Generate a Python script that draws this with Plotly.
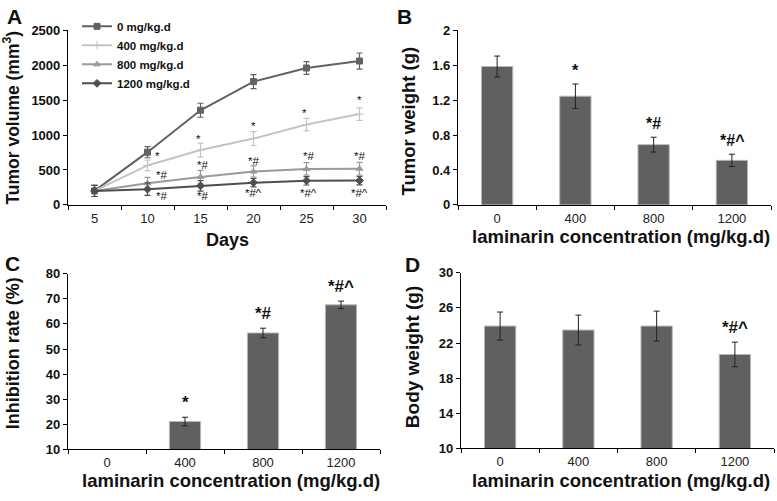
import plotly.graph_objects as go

W, H = 777, 501

# ---------- Panel A data ----------
days = ["5", "10", "15", "20", "25", "30"]
vol_0 = [200, 755, 1355, 1765, 1960, 2060]
vol_0_err = [80, 80, 100, 100, 90, 115]
vol_400 = [200, 565, 785, 950, 1150, 1300]
vol_400_err = [80, 75, 100, 100, 90, 90]
vol_800 = [200, 310, 400, 478, 515, 518]
vol_800_err = [80, 85, 95, 80, 90, 90]
vol_1200 = [200, 225, 272, 318, 345, 348]
vol_1200_err = [80, 90, 75, 60, 60, 60]
series_names = ["0 mg/kg.d", "400 mg/kg.d", "800 mg/kg.d", "1200 mg/kg.d"]

# annotations panel A: (day, value, text, xshift)
ann_A = [
    ("10", 700, "*", 10), ("10", 430, "*#", 14), ("10", 125, "*#", 14),
    ("15", 945, "*", -2), ("15", 565, "*#", 2), ("15", 125, "*#", 2),
    ("20", 1135, "*", 0), ("20", 635, "*#", 0), ("20", 175, "*#^", 0),
    ("25", 1320, "*", -2), ("25", 695, "*#", 2), ("25", 175, "*#^", 2),
    ("30", 1505, "*", 0), ("30", 695, "*#", 0), ("30", 175, "*#^", 0),
]

# ---------- Bar panels ----------
conc = ["0", "400", "800", "1200"]
tumor_weight = [1.585, 1.245, 0.69, 0.51]
tumor_weight_err = [0.12, 0.14, 0.085, 0.07]
tumor_weight_sig = ["", "*", "*#", "*#^"]

inhibition = [0, 21.1, 56.4, 67.6]
inhibition_err = [0, 1.7, 1.9, 1.5]
inhibition_sig = ["", "*", "*#", "*#^"]

body_weight = [23.93, 23.48, 23.93, 20.7]
body_weight_err = [1.6, 1.7, 1.7, 1.4]
body_weight_sig = ["", "", "", "*#^"]

FONT = "Liberation Sans, Arial, sans-serif"

fig = go.Figure()

line_colors = ["#626262", "#c4c4c4", "#9a9a9a", "#4e4e4e"]
symbols = ["square", "cross-thin", "triangle-up", "diamond"]
for name, ys, es, col, sym in zip(series_names,
                                  [vol_0, vol_400, vol_800, vol_1200],
                                  [vol_0_err, vol_400_err, vol_800_err, vol_1200_err],
                                  line_colors, symbols):
    fig.add_trace(go.Scatter(
        x=days, y=ys, name=name, mode="lines+markers",
        line=dict(color=col, width=2),
        marker=dict(symbol=sym, size=6, color=col, line=dict(color=col, width=1)),
        error_y=dict(type="data", array=es, color=col, thickness=1.2, width=3),
        xaxis="x", yaxis="y", showlegend=True,
    ))

def add_bars(vals, errs, xa, ya):
    fig.add_trace(go.Bar(
        x=conc, y=vals, width=0.4,
        marker=dict(color="#606060", line=dict(color="#b8b8b8", width=1)),
        error_y=dict(type="data", array=errs, color="#222222", thickness=1, width=3),
        xaxis=xa, yaxis=ya, showlegend=False,
    ))

add_bars(tumor_weight, tumor_weight_err, "x2", "y2")
add_bars(inhibition, inhibition_err, "x3", "y3")
add_bars(body_weight, body_weight_err, "x4", "y4")

def px_x(a, b):
    return [a / W, b / W]

def px_y(top, bottom):
    return [1 - bottom / H, 1 - top / H]

xcommon = dict(type="category", showline=True, linecolor="#000", linewidth=1.2,
               ticks="outside", ticklen=4, tickcolor="#000", tickson="boundaries",
               showgrid=False, zeroline=False, ticklabelstandoff=1,
               tickfont=dict(family=FONT, size=13, color="#222"))
ycommon = dict(showline=True, linecolor="#000", linewidth=1.2, ticks="outside",
               ticklen=4, tickcolor="#000", showgrid=False, zeroline=False,
               tickfont=dict(family=FONT, size=13, color="#111", weight="bold"))

fig.update_layout(
    width=W, height=H, margin=dict(l=0, r=0, t=0, b=0),
    paper_bgcolor="white", plot_bgcolor="white",
    font=dict(family=FONT, color="#111"),
    bargap=0.6,
    xaxis=dict(domain=px_x(68, 386), anchor="y", range=[-0.5, 5.5], **xcommon),
    yaxis=dict(domain=px_y(24, 204), anchor="x", range=[0, 2500], dtick=500, **ycommon),
    xaxis2=dict(domain=px_x(458, 771), anchor="y2", range=[-0.5, 3.5], **xcommon),
    yaxis2=dict(domain=px_y(24, 204), anchor="x2", range=[0, 2],
                tickvals=[0, 0.4, 0.8, 1.2, 1.6, 2], ticktext=["0", "0.4", "0.8", "1.2", "1.6", "2"], **ycommon),
    xaxis3=dict(domain=px_x(68, 380), anchor="y3", range=[-0.5, 3.5], **xcommon),
    yaxis3=dict(domain=px_y(275, 456), anchor="x3", range=[10, 80], dtick=10, **ycommon),
    xaxis4=dict(domain=px_x(461, 774), anchor="y4", range=[-0.5, 3.5], **xcommon),
    yaxis4=dict(domain=px_y(274, 455), anchor="x4", range=[10, 30], tick0=10, dtick=4, **ycommon),
    legend=dict(x=77 / W, y=1 - 5 / H, xanchor="left", yanchor="top",
                bgcolor="rgba(0,0,0,0)", tracegroupgap=0, itemwidth=30,
                font=dict(family=FONT, size=11.5, color="#111", weight="bold")),
)

anns = []
for d, v, t, xs in ann_A:
    anns.append(dict(x=days.index(d), y=v, xref="x", yref="y", text=t, showarrow=False,
                     xshift=xs, font=dict(family=FONT, size=11.5, color="#111")))

def bar_sig(sig, vals, errs, xr, yr, offset, size):
    for i, (v, e, s) in enumerate(zip(vals, errs, sig)):
        if s:
            anns.append(dict(x=i, y=v + e, xref=xr, yref=yr, text=s, showarrow=False,
                             yanchor="bottom", yshift=offset,
                             font=dict(family=FONT, size=size, color="#111", weight="bold")))

bar_sig(tumor_weight_sig, tumor_weight, tumor_weight_err, "x2", "y2", 3, 16)
bar_sig(inhibition_sig, inhibition, inhibition_err, "x3", "y3", 3, 17)
bar_sig(body_weight_sig, body_weight, body_weight_err, "x4", "y4", 3, 17)

def paper_text(x, y, text, size, angle=0):
    anns.append(dict(x=x / W, y=1 - y / H, xref="paper", yref="paper", text=text,
                     showarrow=False, textangle=angle, xanchor="center", yanchor="middle",
                     font=dict(family=FONT, size=size, color="#111", weight="bold")))

# panel letters
paper_text(14, 10, "A", 21)
paper_text(404, 10, "B", 21)
paper_text(12, 264, "C", 21)
paper_text(412, 265, "D", 21)

# axis titles
paper_text(11, 114, "Tumor volume (mm<sup>3</sup>)", 17.5, -90)
paper_text(227, 240, "Days", 18)
paper_text(621, 237, "laminarin concentration (mg/kg.d)", 18.5)
paper_text(408, 117, "Tumor weight (g)", 18.5, -90)
paper_text(13, 357, "Inhibition rate (%)", 18, -90)
paper_text(231, 488.5, "laminarin concentration (mg/kg.d)", 18.5)
paper_text(412, 361, "Body weight (g)", 19, -90)
paper_text(621, 488.5, "laminarin concentration (mg/kg.d)", 18.5)

fig.update_layout(annotations=anns)
fig.write_html("out.html", config={"displayModeBar": False},
               post_script="document.body.style.margin='0';")
